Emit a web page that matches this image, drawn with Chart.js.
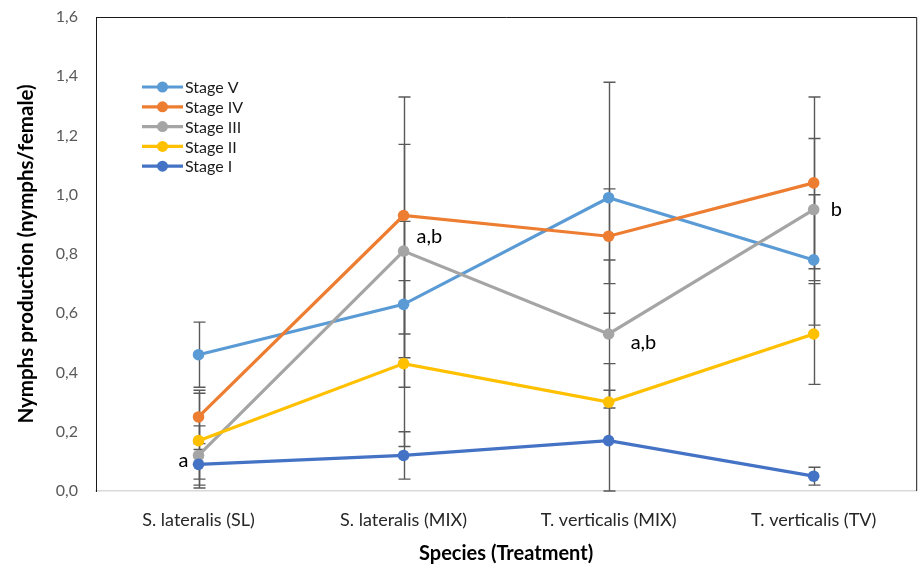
<!DOCTYPE html>
<html>
<head>
<meta charset="utf-8">
<script src="https://cdn.jsdelivr.net/npm/chart.js@4.4.1/dist/chart.umd.min.js"></script>
<style>
html,body{margin:0;padding:0;background:#fff;}
#wrap{width:922px;height:570px;position:relative;}
</style>
</head>
<body>
<div id="wrap"><canvas id="c" width="922" height="570"></canvas></div>
<script>
const categories = ["S. lateralis (SL)", "S. lateralis (MIX)", "T. verticalis (MIX)", "T. verticalis (TV)"];
const seriesNames = ["Stage V", "Stage IV", "Stage III", "Stage II", "Stage I"];
const stageV   = [0.46, 0.63, 0.99, 0.78];
const stageIV  = [0.25, 0.93, 0.86, 1.04];
const stageIII = [0.12, 0.81, 0.53, 0.95];
const stageII  = [0.17, 0.43, 0.30, 0.53];
const stageI   = [0.09, 0.12, 0.17, 0.05];
const errV   = [0.11, 0.28, 0.39, 0.22];
const errIV  = [0.09, 0.40, 0.16, 0.29];
const errIII = [0.10, 0.36, 0.25, 0.24];
const errII  = [0.16, 0.28, 0.13, 0.17];
const errI   = [0.05, 0.08, 0.17, 0.03];
const letters = ["a", "a,b", "a,b", "b"];
const yTicks = [0, 0.2, 0.4, 0.6, 0.8, 1.0, 1.2, 1.4, 1.6];

const colors = ["#5B9BD5", "#ED7D31", "#A5A5A5", "#FFC000", "#4472C4"];
const values = [stageV, stageIV, stageIII, stageII, stageI];
const errors = [errV, errIV, errIII, errII, errI];
const FONT = "Lato, 'Open Sans', sans-serif";

const datasets = values.map((v, i) => ({
  label: seriesNames[i],
  data: v,
  borderColor: colors[i],
  backgroundColor: colors[i],
  borderWidth: 3.2,
  pointRadius: 5.8,
  pointHoverRadius: 5.8,
  pointBorderWidth: 0,
  tension: 0,
  errors: errors[i]
}));
datasets.reverse();

const errorBars = {
  id: 'errorBars',
  beforeDatasetsDraw(chart) {
    const ctx = chart.ctx, y = chart.scales.y;
    ctx.save();
    ctx.strokeStyle = "#595959";
    ctx.lineWidth = 1.4;
    chart.data.datasets.forEach((ds, di) => {
      const meta = chart.getDatasetMeta(di);
      meta.data.forEach((pt, j) => {
        const v = ds.data[j], e = ds.errors[j];
        const x = Math.round(pt.x) + 0.5;
        const y1 = y.getPixelForValue(Math.min(1.6, v + e));
        const y2 = y.getPixelForValue(Math.max(0, v - e));
        ctx.beginPath();
        ctx.moveTo(x, y1); ctx.lineTo(x, y2);
        ctx.moveTo(x - 6, y1); ctx.lineTo(x + 6, y1);
        ctx.moveTo(x - 6, y2); ctx.lineTo(x + 6, y2);
        ctx.stroke();
      });
    });
    ctx.restore();
  }
};

const extras = {
  id: 'extras',
  afterDraw(chart) {
    const ctx = chart.ctx, a = chart.chartArea;
    ctx.save();
    ctx.strokeStyle = "#1a1a1a";
    ctx.lineWidth = 1;
    ctx.beginPath();
    ctx.moveTo(a.left, a.top + 0.5); ctx.lineTo(a.right + 0.5, a.top + 0.5); ctx.lineTo(a.right + 0.5, a.bottom);
    ctx.stroke();
    const idx = chart.data.datasets.findIndex(d => d.label === "Stage III");
    const meta = chart.getDatasetMeta(idx);
    const offs = [[-10, 5, 'right'], [13, -14, 'left'], [22, 9, 'left'], [17, 0, 'left']];
    ctx.fillStyle = "#000";
    ctx.font = "20px " + FONT;
    ctx.textBaseline = 'middle';
    meta.data.forEach((pt, j) => {
      ctx.textAlign = offs[j][2];
      ctx.fillText(letters[j], pt.x + offs[j][0], pt.y + offs[j][1]);
    });
    ctx.textAlign = 'left';
    ctx.font = "16px " + FONT;
    seriesNames.forEach((n, i) => {
      const yy = 87 + i * 19.8;
      ctx.strokeStyle = colors[i];
      ctx.lineWidth = 3.2;
      ctx.beginPath(); ctx.moveTo(142, yy); ctx.lineTo(183, yy); ctx.stroke();
      ctx.fillStyle = colors[i];
      ctx.beginPath(); ctx.arc(162.5, yy, 5.5, 0, Math.PI * 2); ctx.fill();
      ctx.fillStyle = "#1a1a1a";
      ctx.fillText(n, 185, yy + 1);
    });
    ctx.restore();
  }
};

new Chart(document.getElementById('c'), {
  type: 'line',
  data: { labels: categories, datasets },
  plugins: [errorBars, extras],
  options: {
    responsive: false,
    animation: false,
    events: [],
    layout: { padding: { left: 0, right: 1, top: 0, bottom: 0 } },
    plugins: { legend: { display: false }, tooltip: { enabled: false } },
    scales: {
      x: {
        offset: true,
        grid: { display: false, drawTicks: false },
        border: { display: true, color: "#D9D9D9", width: 1.5 },
        ticks: { color: "#262626", font: { family: FONT, size: 18 }, padding: 18, maxRotation: 0 },
        title: { display: true, text: "Species (Treatment)", color: "#000", font: { family: FONT, size: 20, weight: 'bold' }, padding: { top: 4, bottom: 4 } },
        afterFit(s) { s.height = 79; }
      },
      y: {
        min: 0, max: 1.6,
        afterBuildTicks(s) { s.ticks = yTicks.map(v => ({ value: v })); },
        grid: { display: false, drawTicks: false },
        border: { display: true, color: "#1a1a1a", width: 1 },
        ticks: { color: "#595959", font: { family: FONT, size: 16 }, padding: 18,
          callback: v => v.toFixed(1).replace('.', ',') },
        title: { display: true, text: "Nymphs production (nymphs/female)", color: "#000", font: { family: FONT, size: 20.5, weight: 'bold' }, padding: { top: 14, bottom: 4 } },
        afterFit(s) { s.width = 96; s.paddingTop = 17; s.paddingBottom = 10; }
      }
    }
  }
});
</script>
</body>
</html>
